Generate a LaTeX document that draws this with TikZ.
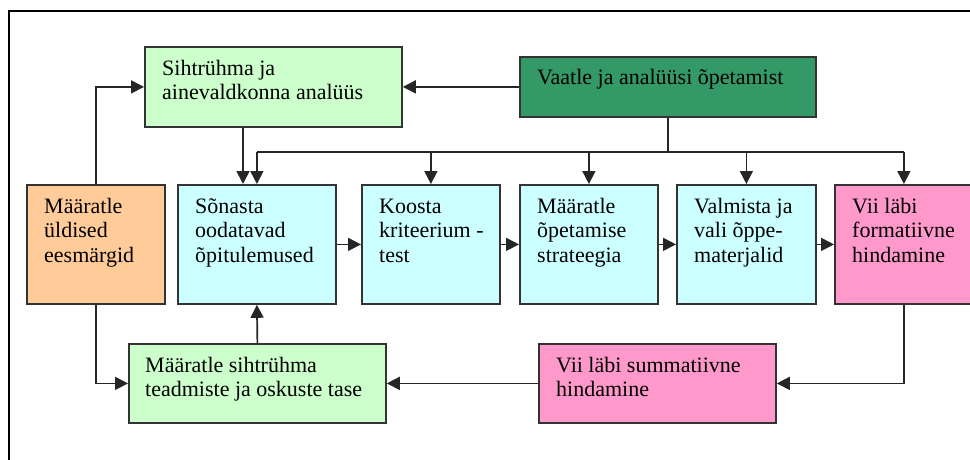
\documentclass[tikz,border=0pt]{standalone}
\usepackage{fontspec}
\setmainfont{Liberation Serif}
\usetikzlibrary{arrows.meta}
\definecolor{dkgreen}{HTML}{339966}
\definecolor{ltgreen}{HTML}{CCFFCC}
\definecolor{ltcyan}{HTML}{CCFFFF}
\definecolor{ltorange}{HTML}{FFCC99}
\definecolor{ltpink}{HTML}{FF99CC}
\definecolor{bordergray}{HTML}{333333}
\tikzset{
  box/.style={draw=bordergray, line width=1.8pt, inner sep=0pt, anchor=north west},
  txt/.style={anchor=north west, inner sep=0pt, align=left, text=black,
              font={\fontsize{22}{24.5}\selectfont}},
  conn/.style={line width=1.7pt, draw=black!85},
  arr/.style={conn, -{Triangle[length=13pt,width=13pt]}},
}
\newcommand{\mkbox}[6]{% name, x1, y1, x2, y2, fill
  \node[box, fill=#6, minimum width={(#4-#2)*1pt}, minimum height={(#5-#3)*1pt}] (#1) at (#2,#3) {};
}
\begin{document}
\begin{tikzpicture}[x=1pt,y=-1pt]
\path[use as bounding box, clip] (0,0) rectangle (970,460);
\fill[white] (0,0) rectangle (970,460);
% frame
\draw[line width=2.5pt, black] (9,470) -- (9,11) -- (980,11);

% boxes
\mkbox{sih}{144}{46}{401}{126}{ltgreen}
\mkbox{vaa}{519}{56}{815}{116}{dkgreen}
\mkbox{mg}{26}{184}{164}{303}{ltorange}
\mkbox{son}{177}{184}{335}{303}{ltcyan}
\mkbox{koo}{361}{184}{499}{303}{ltcyan}
\mkbox{mop}{519}{184}{657}{303}{ltcyan}
\mkbox{val}{676}{184}{815}{303}{ltcyan}
\mkbox{for}{834}{184}{972}{303}{ltpink}
\mkbox{msi}{128}{343}{385}{422}{ltgreen}
\mkbox{sum}{538}{343}{775}{422}{ltpink}

% texts
\node[txt] (tsih) at ([shift={(18,12)}]sih.north west) {\strut Sihtrühma ja\\ainevaldkonna analüüs};
\node[txt] (tvaa) at ([shift={(18,11)}]vaa.north west) {\strut Vaatle ja analüüsi õpetamist};
\node[txt] (tmg)  at ([shift={(18,12)}]mg.north west)  {\strut Määratle\\üldised\\eesmärgid};
\node[txt] (tson) at ([shift={(18,12)}]son.north west) {\strut Sõnasta\\oodatavad\\õpitulemused};
\node[txt] (tkoo) at ([shift={(18,12)}]koo.north west) {\strut Koosta\\kriteerium -\\test};
\node[txt] (tmop) at ([shift={(18,12)}]mop.north west) {\strut Määratle\\õpetamise\\strateegia};
\node[txt] (tval) at ([shift={(18,12)}]val.north west) {\strut Valmista ja\\vali õppe-\\materjalid};
\node[txt] (tfor) at ([shift={(18,12)}]for.north west) {\strut Vii läbi\\formatiivne\\hindamine};
\node[txt] (tmsi) at ([shift={(17,12)}]msi.north west) {\strut Määratle sihtrühma\\teadmiste ja oskuste tase};
\node[txt] (tsum) at ([shift={(18,12)}]sum.north west) {\strut Vii läbi summatiivne\\hindamine};

% connectors
\coordinate (bus) at ([yshift=-34pt]vaa.south);
\draw[arr] (mg.north) |- (sih.west);
\draw[arr] (vaa.west) -- (sih.east);
\draw[arr] ([xshift=99pt]sih.south west) -- ([xshift=66pt]son.north west);
\draw[conn] (vaa.south) -- (bus);
\draw[conn] (son.north |- bus) -- (for.north |- bus);
\foreach \n in {son,koo,mop,val,for}{
  \draw[arr] (\n.north |- bus) -- (\n.north);
}
\draw[arr] (son.east) -- (koo.west);
\draw[arr] (koo.east) -- (mop.west);
\draw[arr] (mop.east) -- (val.west);
\draw[arr] (val.east) -- (for.west);
\draw[arr] (for.south) |- (sum.east);
\draw[arr] (sum.west) -- (msi.east);
\draw[arr] (mg.south) |- (msi.west);
\draw[arr] (msi.north) -- (son.south);
\end{tikzpicture}
\end{document}
